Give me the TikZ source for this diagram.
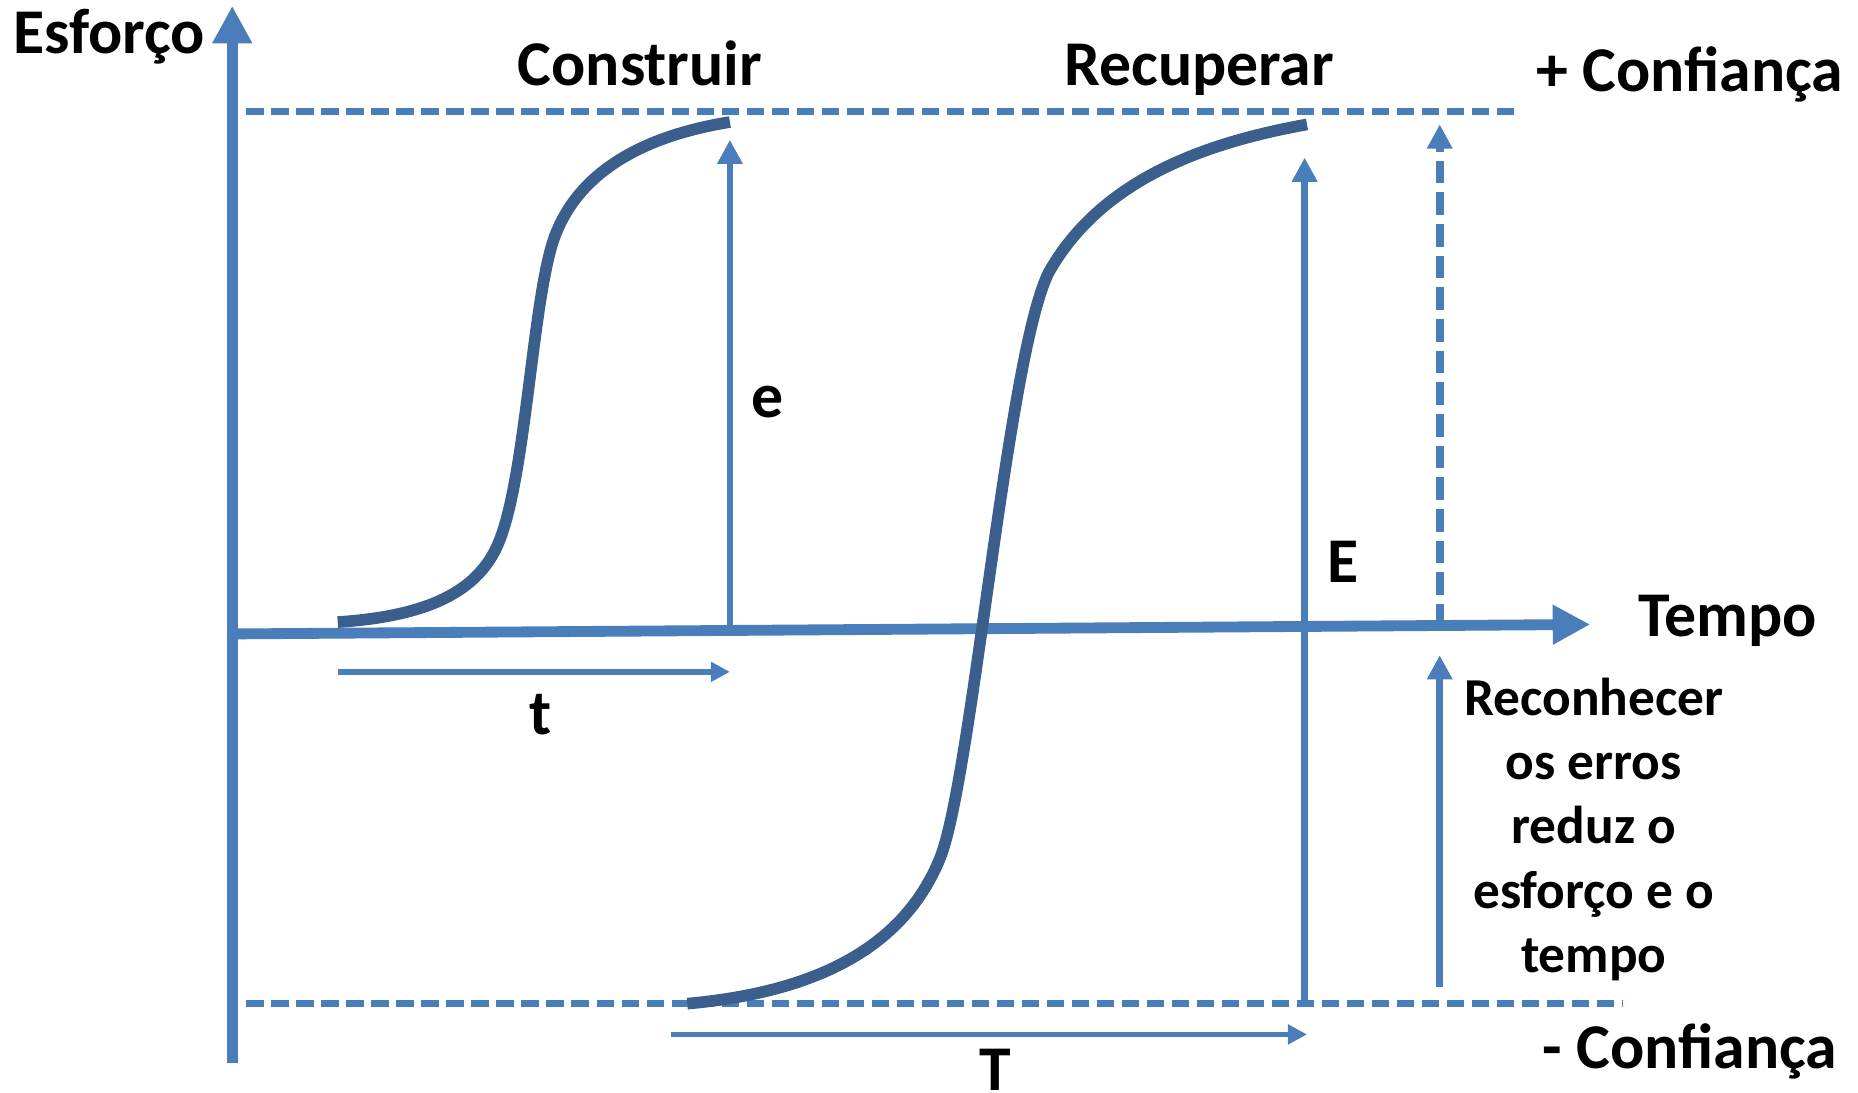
\documentclass[tikz,border=0pt]{standalone}
\usepackage{fontspec}
\setmainfont{Carlito}
\usetikzlibrary{arrows.meta}
\definecolor{axisblue}{HTML}{4A7EBB}
\definecolor{curveblue}{HTML}{3A5F8D}

\begin{document}
\begin{tikzpicture}[x=0.01cm,y=-0.01cm,
  axis/.style={draw=axisblue,line width=2.6pt,-{Triangle[length=9pt,width=9pt]}},
  guide/.style={draw=axisblue,line width=1.6pt,-{Triangle[length=5.8pt,width=5.8pt]}},
  span/.style={draw=axisblue,line width=1.4pt,-{Triangle[length=4.6pt,width=4.6pt]}},
  level/.style={draw=axisblue,line width=1.6pt,dash pattern=on 4.2pt off 1.8pt},
  curve/.style={draw=curveblue,line width=2.8pt},
  lbl/.style={font=\fontsize{15.3}{18}\selectfont\bfseries,anchor=base,inner sep=0pt},
  note/.style={font=\fontsize{12.8}{15.4}\selectfont\bfseries,align=center,inner sep=0pt}]

  \useasboundingbox (0,0) rectangle (1568,922);

  % Axes
  \coordinate (o) at (196,897);
  \coordinate (ytip) at (196,5);
  \coordinate (x0) at (196,535);
  \coordinate (xtip) at (1342,527);
  \draw[axis] (o) -- (ytip);
  \draw[axis] (x0) -- (xtip);

  % Confidence levels
  \coordinate (hi0) at (208,94);
  \coordinate (hi1) at (1280,94);
  \coordinate (lo0) at (208,847);
  \coordinate (lo1) at (1370,847);
  \draw[level] (hi0) -- (hi1);
  \draw[level] (lo0) -- (lo1);

  % Build curve
  \coordinate (b0) at (285,525);
  \coordinate (b1) at (616,103);
  \draw[curve] (b0) .. controls (360,520) and (405,500) .. (422,455)
    .. controls (445,395) and (450,240) .. (470,195)
    .. controls (495,135) and (560,112) .. (b1);

  % Recover curve
  \coordinate (r0) at (580,847);
  \coordinate (r1) at (1103,105);
  \draw[curve] (r0) .. controls (680,838) and (760,805) .. (793,725)
    .. controls (820,660) and (850,300) .. (885,230)
    .. controls (930,150) and (1020,120) .. (r1);

  % Effort and time, small
  \coordinate (e0) at (616,530);
  \coordinate (e1) at (616,118);
  \coordinate (t0) at (285,567);
  \coordinate (t1) at (616,567);
  \draw[guide] (e0) -- (e1);
  \draw[span] (t0) -- (t1);

  % Effort and time, large
  \coordinate (E0) at (1101,847);
  \coordinate (E1) at (1101,133);
  \coordinate (T0) at (566,873);
  \coordinate (T1) at (1103,873);
  \draw[guide] (E0) -- (E1);
  \draw[span] (T0) -- (T1);

  % Recognising errors
  \coordinate (d0) at (1215,529);
  \coordinate (d1) at (1215,105);
  \coordinate (s0) at (1215,833);
  \coordinate (s1) at (1215,553);
  \draw[guide,line width=1.9pt,dash pattern=on 5.5pt off 2.1pt] (d0) -- (d1);
  \draw[guide] (s0) -- (s1);

  % Labels
  \node[lbl] (esforco) at (92,45) {Esforço};
  \node[lbl] (construir) at (540,72) {Construir};
  \node[lbl] (recuperar) at (1012,72) {Recuperar};
  \node[lbl] (mais) at (1426,77) {+ Confiança};
  \node[lbl] (tempo) at (1458,537) {Tempo};
  \node[lbl] (menos) at (1426,902) {- Confiança};
  \node[lbl] (elbl) at (648,352) {e};
  \node[lbl] (Elbl) at (1133,492) {E};
  \node[lbl] (tlbl) at (456,620) {t};
  \node[lbl] (Tlbl) at (840,920) {T};
  \node[note] (reconhecer) at (1345,700) {Reconhecer\\os erros\\reduz o\\esforço e o\\tempo};
\end{tikzpicture}
\end{document}
